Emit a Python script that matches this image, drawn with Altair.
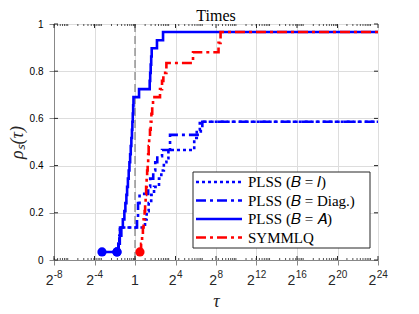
import altair as alt
import pandas as pd

# ---------------- data (x given as log2(tau)) ----------------
series_names = ["PLSS (𝐵 = 𝐼)", "PLSS (𝐵 = Diag.)", "PLSS (𝐵 = 𝐴)", "SYMMLQ"]
series_colors = ["#0000ff", "#0000ff", "#0000ff", "#ff0000"]
series_dashes = [[3, 3], [10, 4, 3, 4], [1, 0], [10, 4, 3, 4]]

bi_exp = [-1.78, -1.62, -1.55, -1.48, 0.99, 1.15, 1.35, 1.6, 1.88, 2.37, 2.6, 2.85, 3.1, 3.3, 5.85, 6.1, 6.4, 24]
bi_val = [0.034, 0.069, 0.103, 0.138, 0.172, 0.207, 0.241, 0.276, 0.31, 0.345, 0.379, 0.414, 0.431, 0.466, 0.517, 0.552, 0.586, 0.586]

bd_exp = [-1.78, -1.62, -1.55, -1.48, 0.2, 0.3, 0.45, 1.3, 1.5, 1.8, 2.0, 2.2, 2.67, 3.46, 6.5, 6.65, 24]
bd_val = [0.034, 0.069, 0.103, 0.138, 0.172, 0.241, 0.28, 0.31, 0.345, 0.379, 0.414, 0.44, 0.466, 0.53, 0.56, 0.586, 0.586]

ba_exp = [-3.26, -1.65, -1.5, -1.35, -1.2, -1.05, -0.95, -0.85, -0.78, -0.7, -0.62, -0.55, -0.48, -0.42,
          -0.36, -0.3, -0.26, -0.22, -0.18, -0.15, 0.4, 1.45, 1.5, 1.55, 1.6, 1.65, 2.17, 2.77, 24]
ba_val = [0.034, 0.069, 0.103, 0.138, 0.172, 0.207, 0.241, 0.276, 0.31, 0.345, 0.379, 0.414, 0.448, 0.483,
          0.517, 0.552, 0.586, 0.621, 0.655, 0.69, 0.724, 0.759, 0.793, 0.828, 0.862, 0.897, 0.931, 0.966, 0.966]

sy_exp = [0.49, 0.6, 0.7, 0.78, 0.85, 0.95, 1.0, 1.05, 1.1, 1.15, 1.2, 1.25, 1.3, 1.35, 1.4, 1.48, 1.55,
          1.62, 1.7, 1.78, 2.47, 2.67, 2.8, 3.1, 5.73, 8.25, 8.45, 24]
sy_val = [0.034, 0.069, 0.103, 0.138, 0.172, 0.207, 0.241, 0.276, 0.31, 0.345, 0.379, 0.414, 0.448, 0.483,
          0.517, 0.552, 0.586, 0.62, 0.655, 0.69, 0.724, 0.759, 0.793, 0.835, 0.88, 0.92, 0.966, 0.966]

x_tick_exps = [-8, -4, 0, 4, 8, 12, 16, 20, 24]
x_tick_base = ["2", "2", "1", "2", "2", "2", "2", "2", "2"]
x_tick_sup = ["-8", "-4", "", "4", "8", "12", "16", "20", "24"]
y_ticks = [0, 0.2, 0.4, 0.6, 0.8, 1.0]
ref_tau = [1]

# ---------------- tables ----------------
all_exp = [bi_exp, bd_exp, ba_exp, sy_exp]
all_val = [bi_val, bd_val, ba_val, sy_val]
rows = []
for name, exps, vals in zip(series_names, all_exp, all_val):
    for e, v in zip(exps, vals):
        rows.append({"series": name, "tau": 2.0 ** e, "rho": v})
df = pd.DataFrame(rows)
first_df = pd.DataFrame([{"series": n, "tau": 2.0 ** e[0], "rho": v[0]}
                         for n, e, v in zip(series_names, all_exp, all_val)])

W, H = 324, 236
x_scale = alt.Scale(type="log", base=2, domain=[2.0 ** -8, 2.0 ** 24], nice=False)
y_scale = alt.Scale(domain=[0, 1], nice=False)
color_scale = alt.Scale(domain=series_names, range=series_colors)
dash_scale = alt.Scale(domain=series_names, range=series_dashes)

x_enc = alt.X("tau:Q", scale=x_scale,
              axis=alt.Axis(values=[2.0 ** k for k in x_tick_exps], labels=False,
                            title="τ", titleFont="Liberation Serif", titleFontStyle="italic",
                            titleFontSize=18, titleFontWeight="normal", titleColor="#262626",
                            titlePadding=27))
y_enc = alt.Y("rho:Q", scale=y_scale,
              axis=alt.Axis(values=y_ticks, format="~g", title="ρₛ(τ)",
                            titleFont="Liberation Serif", titleFontStyle="italic",
                            titleFontSize=18, titleFontWeight="normal", titleColor="#262626",
                            titlePadding=3, labelPadding=6))
c_enc = alt.Color("series:N", scale=color_scale, legend=None)
d_enc = alt.StrokeDash("series:N", scale=dash_scale, legend=None)

layers = []

# reference line at tau = 1
layers.append(alt.Chart(pd.DataFrame({"tau": ref_tau})).mark_rule(
    color="#7f7f7f", strokeWidth=1.2, strokeDash=[8, 4]).encode(x=x_enc))

# curves
for name in series_names:
    layers.append(alt.Chart(df[df.series == name]).mark_line(
        interpolate="step-after", strokeWidth=2.6, clip=True).encode(
        x=x_enc, y=y_enc, color=c_enc, strokeDash=d_enc))

# start markers
layers.append(alt.Chart(first_df).mark_circle(size=85, opacity=1).encode(
    x=x_enc, y=y_enc, color=c_enc))

# inward ticks (box style)
xt = pd.DataFrame({"tau": [2.0 ** k for k in x_tick_exps]})
minor = []
for k in range(-3, 8):
    for m in range(1, 10):
        t = m * 10.0 ** k
        if 2.0 ** -8 < t < 2.0 ** 24:
            minor.append(t)
xm = pd.DataFrame({"tau": minor})
yt = pd.DataFrame({"rho": y_ticks})
tick_col = "#262626"
layers += [
    alt.Chart(xt).mark_rule(color=tick_col, strokeWidth=1).encode(x=x_enc, y=alt.value(0), y2=alt.value(4)),
    alt.Chart(xt).mark_rule(color=tick_col, strokeWidth=1).encode(x=x_enc, y=alt.value(H), y2=alt.value(H - 4)),
    alt.Chart(xm).mark_rule(color=tick_col, strokeWidth=0.8).encode(x=x_enc, y=alt.value(0), y2=alt.value(2)),
    alt.Chart(xm).mark_rule(color=tick_col, strokeWidth=0.8).encode(x=x_enc, y=alt.value(H), y2=alt.value(H - 2)),
    alt.Chart(yt).mark_rule(color=tick_col, strokeWidth=1).encode(y=y_enc, x=alt.value(0), x2=alt.value(4)),
    alt.Chart(yt).mark_rule(color=tick_col, strokeWidth=1).encode(y=y_enc, x=alt.value(W), x2=alt.value(W - 4)),
]

# x tick labels: base with superscript exponent
BASE_W = 7.8
def sup_width(s):
    return sum(3.33 if c == "-" else 5.56 for c in s)
for k, b, s in zip(x_tick_exps, x_tick_base, x_tick_sup):
    tdf = pd.DataFrame({"tau": [2.0 ** k], "base": [b], "sup": [s]})
    if s == "":
        layers.append(alt.Chart(tdf).mark_text(align="center", baseline="alphabetic",
                                               font="Liberation Sans", fontSize=14, color="#262626").encode(
            x=x_enc, y=alt.value(H + 25), text="base:N"))
        continue
    total = BASE_W + sup_width(s)
    off = BASE_W - total / 2
    layers.append(alt.Chart(tdf).mark_text(align="right", baseline="alphabetic", dx=off,
                                           font="Liberation Sans", fontSize=14, color="#262626").encode(
        x=x_enc, y=alt.value(H + 25), text="base:N"))
    layers.append(alt.Chart(tdf).mark_text(align="left", baseline="alphabetic", dx=off + 0.3,
                                           font="Liberation Sans", fontSize=10, color="#262626").encode(
        x=x_enc, y=alt.value(H + 17.5), text="sup:N"))

# legend box
one = pd.DataFrame({"k": [0]})
layers.append(alt.Chart(one).mark_rect(fill="white", stroke="#262626", strokeWidth=1).encode(
    x=alt.value(139), x2=alt.value(316), y=alt.value(148), y2=alt.value(224)))
legend_rows = [158, 176.5, 195, 213.5]
for name, ly in zip(series_names, legend_rows):
    ldf = pd.DataFrame({"series": [name]})
    layers.append(alt.Chart(ldf).mark_rule(strokeWidth=2.6).encode(
        x=alt.value(142), x2=alt.value(188), y=alt.value(ly), color=c_enc, strokeDash=d_enc))
    layers.append(alt.Chart(ldf).mark_text(align="left", baseline="middle", font="Liberation Serif",
                                           fontSize=15, color="#000000").encode(
        x=alt.value(194), y=alt.value(ly), text="series:N"))

chart = alt.layer(*layers).properties(
    width=W, height=H,
    title=alt.Title("Times", font="Liberation Serif", fontSize=16, fontWeight="normal",
                    color="#000000", offset=0, dy=5),
    autosize=alt.AutoSizeParams(type="none"),
    padding={"left": 46, "top": 16, "right": 25, "bottom": 52},
).configure_view(stroke="#262626", strokeWidth=1).configure_axis(
    grid=True, gridColor="#e2e2e2", gridWidth=1, ticks=False, domain=False,
    labelFont="Liberation Sans", labelFontSize=14, labelColor="#262626"
).configure(background="white")

chart.save("out.html", embed_options={"renderer": "svg", "actions": False})
